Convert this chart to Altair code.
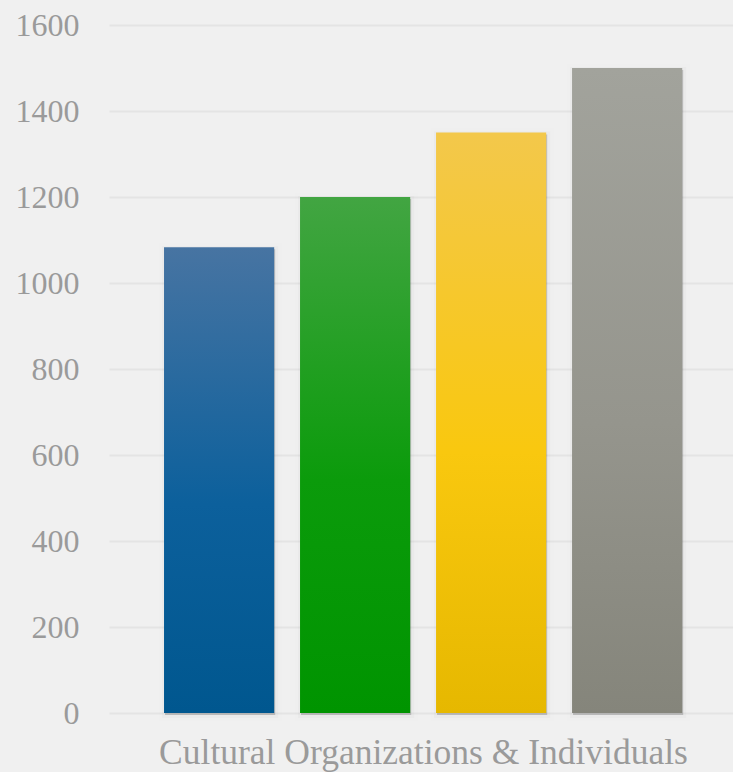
import altair as alt
import pandas as pd

category = "Cultural Organizations & Individuals"
series = ["Series 1", "Series 2", "Series 3", "Series 4"]
values = [1083, 1200, 1350, 1500]
top_colors = ["#4774a2", "#42a542", "#f3c84b", "#a2a39c"]
mid_colors = ["#0c609c", "#0b9b0b", "#f9c80f", "#95958d"]
bottom_colors = ["#00578f", "#009400", "#e6b800", "#85857b"]
y_ticks = [0, 200, 400, 600, 800, 1000, 1200, 1400, 1600]

df = pd.DataFrame({"category": [category] * len(series), "series": series, "value": values})

FONT = "Liberation Serif"

x_enc = alt.X(
    "series:N",
    sort=series,
    scale=alt.Scale(paddingInner=0.19, paddingOuter=0.389, align=0.52),
    axis=alt.Axis(
        labels=False, ticks=False, domain=False, grid=False,
        title=category, titleFont=FONT, titleFontSize=35.5, titleFontWeight="normal",
        titleColor="#9a9a9a", titlePadding=22, titleX=314, titleAlign="center",
    ),
)
y_enc = alt.Y(
    "value:Q",
    scale=alt.Scale(domain=[0, 1600], nice=False),
    axis=alt.Axis(
        values=y_ticks, format="d", title=None, ticks=False, domain=False,
        labelFont=FONT, labelFontSize=32, labelColor="#9a9a9a", labelPadding=30,
        gridColor="#e4e4e4", gridWidth=2,
    ),
)

base = alt.Chart(df).encode(x=x_enc, y=y_enc)

shadow_outer = base.mark_bar(
    color="#000000", opacity=0.06, stroke="#000000", strokeOpacity=0.06,
    strokeWidth=12, xOffset=1, yOffset=2,
)
shadow = base.mark_bar(
    color="#000000", opacity=0.15, stroke="#000000", strokeOpacity=0.12,
    strokeWidth=6, xOffset=1, yOffset=2,
)

layers = [shadow_outer, shadow]
for s, t, m, b in zip(series, top_colors, mid_colors, bottom_colors):
    grad = alt.Gradient(
        gradient="linear", x1=0, x2=0, y1=0, y2=1,
        stops=[
            alt.GradientStop(color=t, offset=0),
            alt.GradientStop(color=m, offset=0.55),
            alt.GradientStop(color=b, offset=1),
        ],
    )
    layers.append(
        base.transform_filter(alt.datum.series == s).mark_bar(color=grad)
    )

chart = alt.layer(*layers).properties(
    width=624, height=688,
    background="#f0f0f0",
    padding={"left": 109, "top": 25, "right": 0, "bottom": 59},
    autosize=alt.AutoSizeParams(type="none"),
).configure_view(stroke=None)

chart.save("out.html", embed_options={"renderer": "svg", "actions": False})
